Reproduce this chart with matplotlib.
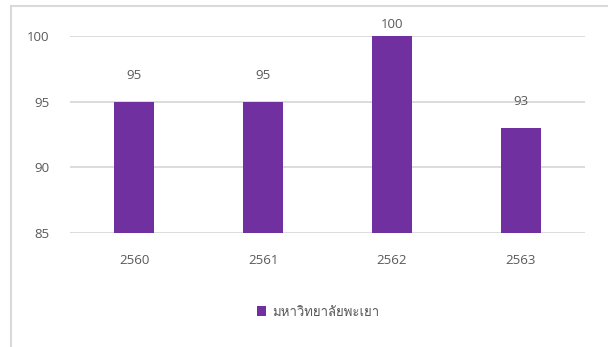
import matplotlib
matplotlib.use("Agg")
import matplotlib.pyplot as plt
from matplotlib import font_manager, ft2font
from matplotlib.patches import Patch
from matplotlib.lines import Line2D

years = ["2560", "2561", "2562", "2563"]
values = [95, 95, 100, 93]
series_name = "มหาวิทยาลัยพะเยา"
yticks = [85, 90, 95, 100]

BAR = "#7030A0"
TXT = "#595959"
GRID = "#D9D9D9"


def find_thai_font():
    for f in font_manager.fontManager.ttflist:
        try:
            ft = ft2font.FT2Font(f.fname)
            if ft.get_char_index(ord("ม")) and ft.get_char_index(ord("ั")):
                return f.name
        except Exception:
            pass
    return None


thai = find_thai_font()
base = "Open Sans"
fam = [base] + ([thai] if thai else []) + ["DejaVu Sans"]
plt.rcParams["font.family"] = fam

W, H = 608, 347
fig = plt.figure(figsize=(W / 100, H / 100), dpi=100)
ax = fig.add_axes([70 / W, 1 - 233 / H, (585 - 70) / W, (233 - 36) / H])

x = list(range(len(years)))
bars = ax.bar(x, values, width=0.31, color=BAR, zorder=3)
ax.set_xlim(-0.5, len(years) - 0.5)
ax.set_ylim(85, 100)
ax.set_yticks(yticks)
ax.set_xticks(x)
ax.set_xticklabels(years)
ax.yaxis.grid(True, color=GRID, lw=1.3, zorder=0)
ax.set_axisbelow(True)
for s in ax.spines.values():
    s.set_visible(False)
ax.tick_params(axis="both", length=0, colors=TXT, labelsize=9.5)
ax.tick_params(axis="y", pad=15)
ax.tick_params(axis="x", pad=15)

ylo, yhi = ax.get_ylim()
for xi, v in zip(x, values):
    off = 18.7 if v < yhi else 8
    ax.annotate(str(v), (xi, v), xytext=(0, off), textcoords="offset points",
                ha="center", va="center", color=TXT, fontsize=9.5)

handles = [Patch(facecolor=BAR, edgecolor="none")]
fig.legend(handles, [series_name], loc="center", bbox_to_anchor=(318 / W, 1 - 312 / H),
           frameon=False, fontsize=9.5, labelcolor=TXT, handlelength=0.7,
           handleheight=0.7, handletextpad=0.4)

# chart area border (left and top visible)
fig.add_artist(Line2D([10.5 / W, 10.5 / W], [0, 1 - 6 / H], color=GRID, lw=1.5))
fig.add_artist(Line2D([10.5 / W, 1], [1 - 6 / H, 1 - 6 / H], color=GRID, lw=1.5))

fig.savefig("out.png", dpi=100)
